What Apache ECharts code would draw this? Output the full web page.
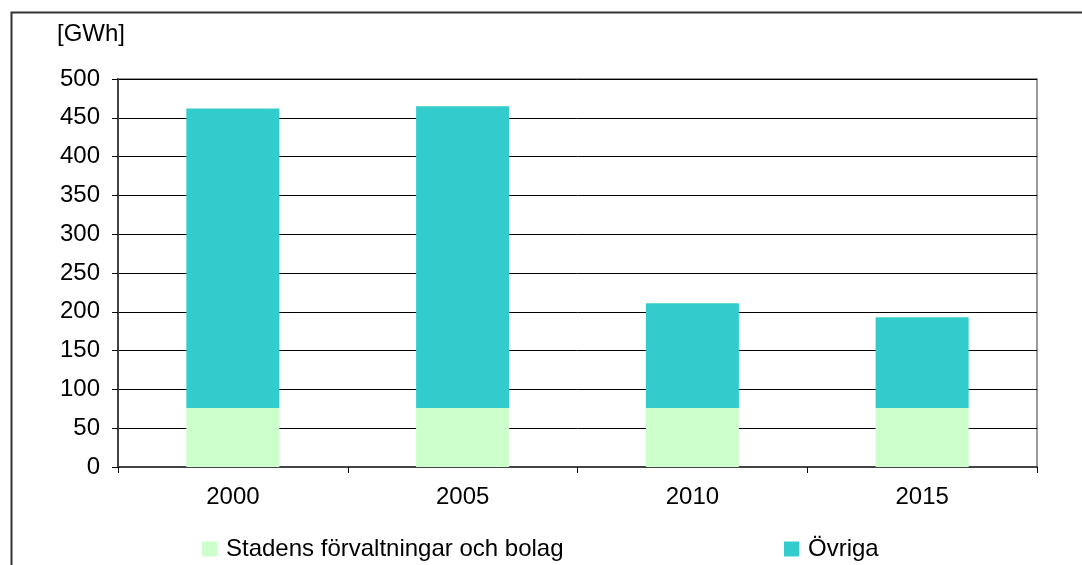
<!DOCTYPE html>
<html>
<head>
<meta charset="utf-8">
<script src="https://cdn.jsdelivr.net/npm/echarts@6/dist/echarts.min.js"></script>
<style>
  html, body { margin: 0; padding: 0; background: #fff; }
  #chart { width: 1082px; height: 565px; }
</style>
</head>
<body>
<div id="chart"></div>
<script>
// Energy use per year, split by owner group
const years = ['2000', '2005', '2010', '2015'];
const stadens = [76, 76, 76, 76];
const ovriga = [386, 389, 135, 117];
const unitLabel = '[GWh]';
const seriesNames = ['Stadens förvaltningar och bolag', 'Övriga'];

const font = 'Liberation Sans, Arial, sans-serif';
const fs = 24;
const chart = echarts.init(document.getElementById('chart'), null, { renderer: 'canvas' });

const legendBase = {
  icon: 'rect', itemWidth: 15, itemHeight: 15, itemGap: 0,
  textStyle: { fontSize: fs, color: '#000', fontFamily: font, padding: [0, 0, 0, 4] },
  padding: 0
};

chart.setOption({
  animation: false,
  backgroundColor: '#fff',
  textStyle: { fontFamily: font },
  graphic: [
    {
      type: 'rect',
      left: 9, top: 10,
      shape: { width: 1100, height: 600 },
      style: { fill: 'none', stroke: '#333', lineWidth: 2 },
      silent: true
    },
    {
      type: 'text',
      left: 57, top: 22,
      style: { text: unitLabel, font: fs + 'px ' + font, fill: '#000' }
    }
  ],
  legend: [
    Object.assign({ data: [seriesNames[0]], left: 202, top: 537 }, legendBase),
    Object.assign({ data: [seriesNames[1]], left: 784, top: 537 }, legendBase)
  ],
  grid: {
    left: 118, right: 45, top: 79, bottom: 98,
    show: true, borderColor: '#999', borderWidth: 2, backgroundColor: 'transparent'
  },
  xAxis: {
    type: 'category',
    data: years,
    axisLine: { lineStyle: { color: '#444', width: 2 } },
    axisTick: { show: true, length: 6, alignWithLabel: false, lineStyle: { color: '#000', width: 1 } },
    axisLabel: { fontSize: fs, color: '#000', margin: 18, fontFamily: font },
    splitLine: { show: false }
  },
  yAxis: {
    type: 'value',
    min: 0, max: 500, interval: 50,
    axisLine: { show: true, lineStyle: { color: '#444', width: 2 } },
    axisTick: { show: true, length: 6, inside: false, lineStyle: { color: '#000', width: 1 } },
    axisLabel: { fontSize: fs, color: '#000', margin: 18, fontFamily: font },
    splitLine: { show: true, lineStyle: { color: '#000', width: 1 } }
  },
  series: [
    {
      name: seriesNames[0],
      type: 'bar',
      stack: 'total',
      data: stadens,
      barWidth: '40.5%',
      itemStyle: { color: '#CCFFCC' }
    },
    {
      name: seriesNames[1],
      type: 'bar',
      stack: 'total',
      data: ovriga,
      barWidth: '40.5%',
      itemStyle: { color: '#33CCCC' }
    }
  ]
});
</script>
</body>
</html>
